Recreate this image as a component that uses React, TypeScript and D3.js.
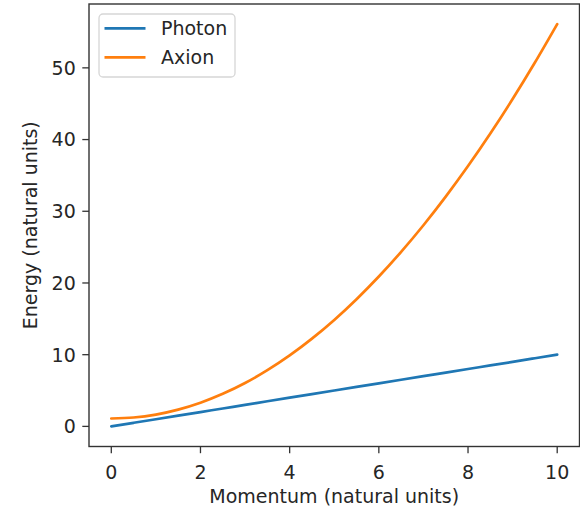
import React from "react";
import * as d3 from "d3";

const momentum = [0, 0.5, 1, 1.5, 2, 2.5, 3, 3.5, 4, 4.5, 5, 5.5, 6, 6.5, 7, 7.5, 8, 8.5, 9, 9.5, 10];
const photonEnergy = [0, 0.5, 1, 1.5, 2, 2.5, 3, 3.5, 4, 4.5, 5, 5.5, 6, 6.5, 7, 7.5, 8, 8.5, 9, 9.5, 10];
const axionEnergy = [1.1, 1.24, 1.65, 2.34, 3.3, 4.54, 6.05, 7.84, 9.9, 12.24, 14.85, 17.74, 20.9, 24.34, 28.05, 32.04, 36.3, 40.84, 45.65, 50.74, 56.1];
const seriesNames = ["Photon", "Axion"];
const seriesColors = ["#1f77b4", "#ff7f0e"];
const xTicks = [0, 2, 4, 6, 8, 10];
const yTicks = [0, 10, 20, 30, 40, 50];
const xLabel = "Momentum (natural units)";
const yLabel = "Energy (natural units)";

const W = 580;
const H = 507;
const left = 89;
const right = 579.5;
const top = 4;
const bottom = 446.5;
const FONT = "'DejaVu Sans', sans-serif";
const FS = 19;
const TEXT = "#262626";

export default function App() {
  const xMin = d3.min(momentum)!;
  const xMax = d3.max(momentum)!;
  const allY = [...photonEnergy, ...axionEnergy];
  const yMin = d3.min(allY)!;
  const yMax = d3.max(allY)!;
  const xPad = (xMax - xMin) * 0.05;
  const yPad = (yMax - yMin) * 0.05;
  const x = d3.scaleLinear().domain([xMin - xPad, xMax + xPad]).range([left, right]);
  const y = d3.scaleLinear().domain([yMin - yPad, yMax + yPad]).range([bottom, top]);

  const series = [photonEnergy, axionEnergy];
  const line = d3
    .line<number>()
    .x((_, i) => x(momentum[i]))
    .y((d) => y(d))
    .curve(d3.curveMonotoneX);

  const tickLen = 6.7;

  return (
    <svg
      width={W}
      height={H}
      style={{ position: "absolute", left: 0, top: 0, background: "#fff" }}
      fontFamily={FONT}
    >
      <rect x={0} y={0} width={W} height={H} fill="#fff" />
      {series.map((s, k) => (
        <path
          key={seriesNames[k]}
          d={line(s) || ""}
          fill="none"
          stroke={seriesColors[k]}
          strokeWidth={2.7}
          strokeLinecap="round"
          strokeLinejoin="round"
        />
      ))}
      <rect
        x={left}
        y={top}
        width={right - left}
        height={bottom - top}
        fill="none"
        stroke="#333"
        strokeWidth={1.4}
      />
      {xTicks.map((t) => (
        <g key={"x" + t}>
          <line x1={x(t)} x2={x(t)} y1={bottom} y2={bottom + tickLen} stroke="#333" strokeWidth={1.3} />
          <text x={x(t)} y={479} textAnchor="middle" fontSize={FS} fill={TEXT}>
            {t}
          </text>
        </g>
      ))}
      {yTicks.map((t) => (
        <g key={"y" + t}>
          <line x1={left - tickLen} x2={left} y1={y(t)} y2={y(t)} stroke="#333" strokeWidth={1.3} />
          <text x={left - tickLen - 6.5} y={y(t)} dy="0.36em" textAnchor="end" fontSize={FS} fill={TEXT}>
            {t}
          </text>
        </g>
      ))}
      <text x={(left + right) / 2} y={503} textAnchor="middle" fontSize={FS} fill={TEXT}>
        {xLabel}
      </text>
      <text
        transform={`translate(37, ${(top + bottom) / 2}) rotate(-90)`}
        textAnchor="middle"
        fontSize={FS}
        fill={TEXT}
      >
        {yLabel}
      </text>
      <g>
        <rect x={99} y={14} width={136} height={63} rx={4} ry={4} fill="#fff" fillOpacity={0.8} stroke="#d6d6d6" strokeWidth={1.3} />
        {seriesNames.map((name, k) => (
          <g key={name}>
            <line
              x1={104.5}
              x2={145.5}
              y1={28.3 + k * 29}
              y2={28.3 + k * 29}
              stroke={seriesColors[k]}
              strokeWidth={2.7}
            />
            <text x={161} y={28.3 + k * 29} dy="0.36em" fontSize={FS} fill={TEXT}>
              {name}
            </text>
          </g>
        ))}
      </g>
    </svg>
  );
}
